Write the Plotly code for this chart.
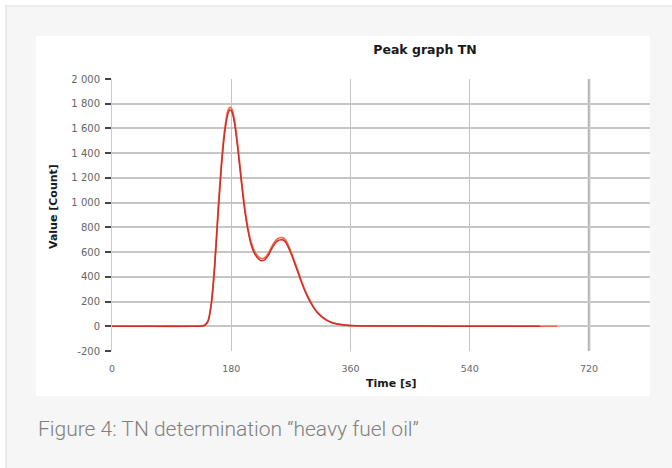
import plotly.graph_objects as go

# ---- data ----
time_a = [0, 60, 120, 135, 140, 145, 150, 155, 160, 165, 170, 175, 178, 181, 185, 190, 195,
          200, 205, 210, 215, 220, 225, 230, 235, 240, 245, 250, 255, 258, 262, 266, 270,
          275, 280, 285, 290, 295, 300, 305, 310, 320, 330, 340, 350, 360, 400, 450, 500,
          550, 600, 646]
value_a = [0, 0, 0, 2, 8, 40, 180, 480, 900, 1280, 1560, 1720, 1750, 1735, 1640, 1430, 1180,
           950, 780, 660, 590, 550, 530, 535, 565, 615, 660, 690, 700, 698, 680, 640, 590,
           520, 445, 370, 300, 240, 190, 145, 110, 62, 33, 18, 10, 6, 3, 2, 1,
           1, 0, 0]

time_b = [0, 60, 120, 135, 140, 145, 150, 155, 160, 165, 170, 175, 178, 181, 185, 190, 195,
          200, 205, 210, 215, 220, 225, 230, 235, 240, 245, 250, 255, 258, 262, 266, 270,
          275, 280, 285, 290, 295, 300, 305, 310, 320, 330, 340, 350, 360, 400, 450, 500,
          550, 600, 672]
value_b = [0, 0, 0, 3, 10, 45, 195, 505, 930, 1310, 1590, 1745, 1770, 1755, 1665, 1455, 1205,
           975, 800, 680, 608, 568, 548, 552, 582, 633, 680, 708, 718, 715, 697, 656, 605,
           534, 458, 381, 310, 248, 197, 151, 115, 65, 35, 19, 11, 6, 3, 2, 1,
           1, 0, 0]

x_ticks = [0, 180, 360, 540, 720]
y_ticks = [-200, 0, 200, 400, 600, 800, 1000, 1200, 1400, 1600, 1800, 2000]
y_tick_text = ["-200", "0", "200", "400", "600", "800", "1 000", "1 200", "1 400",
               "1 600", "1 800", "2 000"]

W, H = 672, 468
L, R, T, B = 112, 650, 79, 351   # plot area in pixels
pw, ph = R - L, B - T

def px_x(p):
    return (p - L) / pw

def px_y(p):
    return (B - p) / ph

fig = go.Figure()
fig.add_trace(go.Scatter(x=time_b, y=value_b, mode="lines",
                         line=dict(color="#f06a48", width=1.7, shape="spline", smoothing=0.6),
                         showlegend=False))
fig.add_trace(go.Scatter(x=time_a, y=value_a, mode="lines",
                         line=dict(color="#cf2f2a", width=1.5, shape="spline", smoothing=0.6),
                         showlegend=False))

shapes = [
    dict(type="rect", xref="paper", yref="paper", x0=px_x(6), x1=px_x(W + 10), y0=px_y(6), y1=px_y(H + 10),
         fillcolor="#f6f6f6", line=dict(color="#e6e6e6", width=1.5), layer="below"),
    dict(type="rect", xref="paper", yref="paper", x0=px_x(36), x1=px_x(650), y0=px_y(36), y1=px_y(396),
         fillcolor="#ffffff", line=dict(width=0), layer="below"),
    dict(type="line", xref="x", yref="paper", x0=x_ticks[-1], x1=x_ticks[-1], y0=0, y1=1,
         line=dict(color="#b3b3b3", width=2.5), layer="below"),
]

fig.update_layout(
    width=W, height=H,
    margin=dict(l=L, r=W - R, t=T, b=H - B, pad=0),
    paper_bgcolor="#ffffff", plot_bgcolor="rgba(0,0,0,0)",
    shapes=shapes,
    title=dict(text="<b>Peak graph TN</b>", xref="paper", x=px_x(425), xanchor="center",
               yref="container", y=1 - 50 / H, yanchor="middle",
               font=dict(family="DejaVu Sans", size=12.5, color="#1a1a1a")),
    xaxis=dict(range=[0, 812], tickvals=x_ticks, ticktext=[str(v) for v in x_ticks],
               showgrid=True, gridcolor="#c4c4c4", gridwidth=1.2, zeroline=False,
               showline=False, ticks="", ticklabelstandoff=10,
               tickfont=dict(family="DejaVu Sans", size=9.5, color="#666")),
    yaxis=dict(range=[-200, 2000], tickvals=y_ticks, ticktext=y_tick_text,
               showgrid=True, gridcolor="#c6c6c6", gridwidth=1.8, zeroline=False,
               showline=True, linecolor="#cccccc", linewidth=1,
               ticks="outside", ticklen=6, tickwidth=2, tickcolor="#444",
               ticklabelstandoff=3,
               tickfont=dict(family="DejaVu Sans", size=10, color="#666")),
    annotations=[
        dict(text="<b>Value [Count]</b>", xref="paper", yref="paper", x=px_x(53), y=px_y(207),
             textangle=-90, showarrow=False, xanchor="center", yanchor="middle",
             font=dict(family="DejaVu Sans", size=11, color="#1a1a1a")),
        dict(text="<b>Time [s]</b>", xref="paper", yref="paper", x=px_x(391), y=px_y(383),
             showarrow=False, xanchor="center", yanchor="middle",
             font=dict(family="DejaVu Sans", size=11, color="#1a1a1a")),
        dict(text="Figure 4: TN determination “heavy fuel oil”", xref="paper", yref="paper",
             x=px_x(36), y=px_y(429), showarrow=False, xanchor="left", yanchor="middle",
             font=dict(family="Roboto", size=21, color="#808080", weight=300)),
    ],
)

fig.write_html("out.html", config={"displayModeBar": False},
               post_script="document.body.style.margin='0';document.body.style.overflow='hidden';")
